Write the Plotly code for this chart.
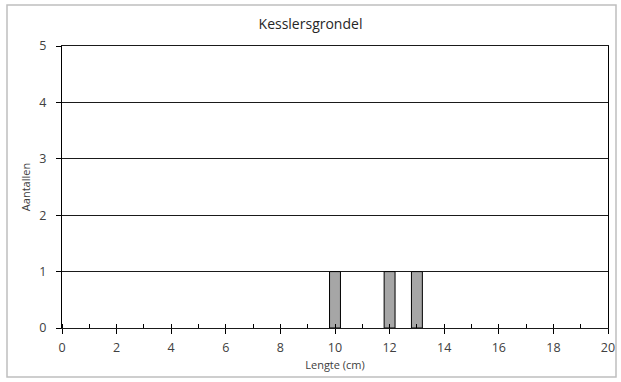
import plotly.graph_objects as go

# Length classes (cm) and counts
lengths = [10, 12, 13]
counts = [1, 1, 1]

title_text = "Kesslersgrondel"
x_title = "Lengte (cm)"
y_title = "Aantallen"

W, H = 621, 382
ml, mr, mt, mb = 62, 13, 46, 54
pw, ph = W - ml - mr, H - mt - mb

fig = go.Figure()
fig.add_trace(go.Bar(
    x=lengths, y=counts, width=0.4,
    marker=dict(color="#A6A6A6", line=dict(color="#000000", width=1)),
    showlegend=False,
))

font = "Open Sans, Liberation Sans, sans-serif"

fig.update_layout(
    width=W, height=H,
    margin=dict(l=ml, r=mr, t=mt, b=mb, autoexpand=False),
    paper_bgcolor="white", plot_bgcolor="white",
    font=dict(family=font, color="#404040", size=12),
    title=dict(text=title_text, x=0.5, xanchor="center", y=1 - 24 / H,
               yanchor="middle", font=dict(size=14, color="#262626")),
    xaxis=dict(
        range=[0, 20], dtick=2, tick0=0, automargin=False,
        ticks="outside", ticklen=5, tickcolor="#000000",
        minor=dict(ticks="inside", dtick=1, ticklen=4, tickcolor="#000000",
                   showgrid=False),
        showline=True, linecolor="#1a1a1a", linewidth=1, mirror=True,
        showgrid=False, zeroline=False, ticklabelstandoff=3,
        title=dict(text=x_title, font=dict(size=11), standoff=6),
        tickfont=dict(size=12.5),
    ),
    yaxis=dict(
        range=[0, 5], dtick=1, automargin=False,
        ticks="outside", ticklen=5, tickcolor="#000000",
        showline=True, linecolor="#000000", linewidth=1, mirror=True,
        showgrid=True, gridcolor="#1a1a1a", gridwidth=1, zeroline=False,
        ticklabelstandoff=7,
        title=dict(text=y_title, font=dict(size=11), standoff=6),
        tickfont=dict(size=12.5),
    ),
    shapes=[dict(
        type="rect", xref="paper", yref="paper",
        x0=(7 - ml) / pw, x1=(616 - ml) / pw,
        y0=(H - mb - 377) / ph, y1=(H - mb - 5) / ph,
        line=dict(color="#BFBFBF", width=1.5), fillcolor="rgba(0,0,0,0)",
        layer="below",
    )],
)

fig.write_html("out.html")
